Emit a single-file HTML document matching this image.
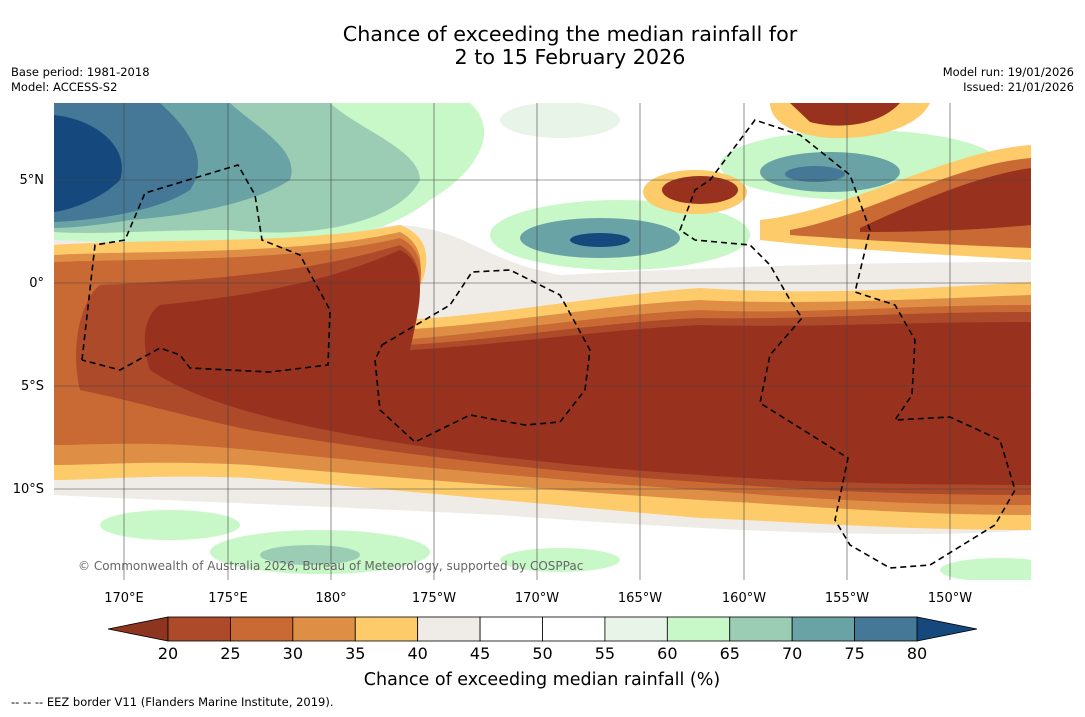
<!DOCTYPE html>
<html><head><meta charset="utf-8"><style>
body{margin:0;background:#fff;font-family:"DejaVu Sans",sans-serif}
svg text{font-family:"DejaVu Sans","Liberation Sans",sans-serif}
</style></head><body>
<svg width="1085" height="713" viewBox="0 0 1085 713">
<text x="570" y="41" font-size="20.7" text-anchor="middle">Chance of exceeding the median rainfall for</text>
<text x="570" y="64" font-size="20.7" text-anchor="middle">2 to 15 February 2026</text>
<text x="11" y="76" font-size="11.5">Base period: 1981-2018</text>
<text x="11" y="91" font-size="11.5">Model: ACCESS-S2</text>
<text x="1074" y="76" font-size="11.5" text-anchor="end">Model run: 19/01/2026</text>
<text x="1074" y="91" font-size="11.5" text-anchor="end">Issued: 21/01/2026</text>
<defs><clipPath id="mc"><rect x="54" y="103" width="977" height="477"/></clipPath></defs>
<g clip-path="url(#mc)">
<rect x="54" y="103" width="977" height="477" fill="#fff"/>
<path fill="#efebe6" d="M54,235 C150,232 300,232 400,225 C470,230 480,260 560,275 C700,268 850,262 1031,262 L1031,530 C900,540 700,530 500,515 C300,505 150,500 54,495 Z"/>
<ellipse cx="170" cy="525" rx="70" ry="15" fill="#c8f8c8"/>
<ellipse cx="320" cy="552" rx="110" ry="22" fill="#c8f8c8"/>
<ellipse cx="310" cy="555" rx="50" ry="10" fill="#9acdb4"/>
<ellipse cx="1000" cy="570" rx="60" ry="12" fill="#c8f8c8"/>
<ellipse cx="560" cy="560" rx="60" ry="12" fill="#c8f8c8"/>
<path fill="#c8f8c8" d="M54,103 L470,103 C500,130 480,170 430,200 C380,240 300,250 200,245 C120,245 80,240 54,240 Z"/>
<path fill="#9acdb4" d="M54,103 L330,103 C360,130 420,150 420,180 C400,220 320,240 230,230 C150,230 100,235 54,232 Z"/>
<path fill="#6aa3a5" d="M54,103 L230,103 C260,130 300,150 290,180 C260,200 200,215 130,220 C100,225 70,228 54,228 Z"/>
<path fill="#447896" d="M54,103 L160,103 C190,130 210,160 190,190 C160,210 100,220 54,222 Z"/>
<path fill="#15497e" d="M54,115 C100,120 130,150 120,180 C100,200 70,210 54,212 Z"/>
<ellipse cx="620" cy="235" rx="130" ry="35" fill="#c8f8c8"/>
<ellipse cx="600" cy="238" rx="80" ry="20" fill="#6aa3a5"/>
<ellipse cx="600" cy="240" rx="30" ry="7" fill="#15497e"/>
<ellipse cx="860" cy="165" rx="140" ry="35" fill="#c8f8c8"/>
<ellipse cx="830" cy="172" rx="70" ry="20" fill="#6aa3a5"/>
<ellipse cx="815" cy="174" rx="30" ry="8" fill="#447896"/>
<ellipse cx="560" cy="120" rx="60" ry="18" fill="#e8f4e8"/>
<path fill="#fdcb6a" d="M770,103 L930,103 C920,125 880,140 830,138 C790,135 770,120 770,103 Z"/>
<path fill="#98321e" d="M790,103 L900,103 C880,125 840,130 810,122 Z"/>
<ellipse cx="695" cy="192" rx="52" ry="22" fill="#fdcb6a"/>
<ellipse cx="700" cy="190" rx="38" ry="14" fill="#98321e"/>
<path fill="#fdcb6a" d="M54,245 C150,238 300,245 400,225 C440,240 430,280 400,320 C500,315 600,295 700,288 C800,295 900,290 1031,282 L1031,530 C900,530 800,522 700,518 C550,505 400,490 250,478 C150,474 100,480 54,480 Z"/>
<path fill="#fdcb6a" d="M760,220 C850,210 950,150 1031,145 L1031,260 C950,255 850,250 760,240 Z"/>
<path fill="#c96a35" d="M790,230 C870,215 950,165 1031,158 L1031,248 C950,245 860,240 790,235 Z"/>
<path fill="#98321e" d="M860,228 C920,200 980,175 1031,168 L1031,225 C980,230 920,232 860,232 Z"/>
<path fill="#df8f45" d="M54,255 C150,250 300,255 400,232 C435,250 420,290 395,330 C500,325 600,305 700,300 C800,305 900,300 1031,295 L1031,515 C900,515 800,505 700,500 C550,490 400,478 250,465 C150,460 100,465 54,465 Z"/>
<path fill="#c96a35" d="M54,262 C150,258 300,262 400,238 C435,255 420,300 400,340 C500,332 600,315 700,310 C800,315 900,305 1031,305 L1031,505 C900,505 800,498 700,490 C550,480 400,465 250,450 C150,440 100,445 54,445 Z"/>
<path fill="#ad4a2a" d="M100,285 C200,280 300,275 400,245 C430,262 420,305 405,345 C500,340 600,322 700,318 C800,320 900,312 1031,312 L1031,495 C900,495 800,490 700,482 C550,472 400,455 250,430 C180,415 130,400 80,390 C70,350 80,300 100,285 Z"/>
<path fill="#98321e" d="M160,305 C250,295 320,285 400,250 C430,265 420,305 410,350 C500,345 600,330 700,325 C800,328 900,322 1031,322 L1031,485 C900,485 800,482 700,475 C550,465 400,448 280,420 C220,405 180,390 150,370 C140,340 145,315 160,305 Z"/>
<text x="78" y="570" font-size="12" fill="#666">© Commonwealth of Australia 2026, Bureau of Meteorology, supported by COSPPac</text>
<g stroke="#444" stroke-width="0.6">
<line x1="124" y1="103" x2="124" y2="580"/><line x1="228" y1="103" x2="228" y2="580"/><line x1="331" y1="103" x2="331" y2="580"/><line x1="434" y1="103" x2="434" y2="580"/><line x1="537" y1="103" x2="537" y2="580"/><line x1="640" y1="103" x2="640" y2="580"/><line x1="744" y1="103" x2="744" y2="580"/><line x1="847" y1="103" x2="847" y2="580"/><line x1="950" y1="103" x2="950" y2="580"/>
<line x1="54" y1="180" x2="1031" y2="180"/><line x1="54" y1="283" x2="1031" y2="283"/><line x1="54" y1="386" x2="1031" y2="386"/><line x1="54" y1="489" x2="1031" y2="489"/>
</g>
<g fill="none" stroke="#000" stroke-width="1.6" stroke-dasharray="6,4">
<path d="M82,360 L95,245 L125,240 L145,193 L238,165 L255,195 L262,240 L300,255 L330,310 L328,365 L270,372 L190,368 L180,355 L160,348 L120,370 L82,360"/>
<path d="M382,345 L450,305 L472,272 L510,270 L560,295 L590,350 L585,390 L560,422 L525,425 L470,415 L415,442 L380,410 L375,360 Z"/>
<path d="M680,230 L695,190 L710,180 L755,120 L800,135 L850,175 L870,230 L855,292 L895,305 L915,340 L912,395 L895,420 L950,417 L1000,440 L1015,490 L995,525 L930,565 L890,568 L850,545 L835,520 L848,458 L760,403 L770,355 L802,318 L790,300 L770,265 L750,245 L695,240 Z"/>
</g>
</g>
<g font-size="13" text-anchor="end">
<text x="44" y="184">5°N</text><text x="44" y="287">0°</text><text x="44" y="390">5°S</text><text x="44" y="493">10°S</text>
</g>
<g font-size="13" text-anchor="middle">
<text x="124" y="602">170°E</text><text x="228" y="602">175°E</text><text x="331" y="602">180°</text><text x="434" y="602">175°W</text><text x="537" y="602">170°W</text><text x="640" y="602">165°W</text><text x="744" y="602">160°W</text><text x="847" y="602">155°W</text><text x="950" y="602">150°W</text>
</g>
<g id="cbar"></g>
<text x="542" y="685" font-size="17.5" text-anchor="middle">Chance of exceeding median rainfall (%)</text>
<text x="11" y="706" font-size="11.5">--  --  -- EEZ border V11 (Flanders Marine Institute, 2019).</text>
</svg>
<script>
const levels=[20,25,30,35,40,45,50,55,60,65,70,75,80];
const binColors=["#ad4a2a","#c96a35","#df8f45","#fdcb6a","#efebe6","#ffffff","#ffffff","#e8f4e8","#c8f8c8","#9acdb4","#6aa3a5","#447896"];
const lowColor="#8e3520", highColor="#15497e";
const g=document.getElementById('cbar'),NS="http://www.w3.org/2000/svg";
const x0=168,x1=917,y0=617,y1=641;
const xs=v=>x0+(v-levels[0])/(levels[levels.length-1]-levels[0])*(x1-x0);
function mk(t,a){const e=document.createElementNS(NS,t);for(const k in a)e.setAttribute(k,a[k]);g.appendChild(e);return e;}
const lt=mk('polygon',{points:`108,629 ${x0},${y0} ${x0},${y1}`,fill:lowColor,stroke:'#000','stroke-width':0.8});


const rt=mk('polygon',{points:`977,629 ${x1},${y0} ${x1},${y1}`,fill:highColor,stroke:'#000','stroke-width':0.8});


binColors.forEach((c,i)=>{
 const r=mk('rect',{x:xs(levels[i]),y:y0,width:xs(levels[i+1])-xs(levels[i]),height:y1-y0,fill:c,stroke:'#000','stroke-width':0.8});
 
 
});
levels.forEach(v=>{
 const t=mk('text',{x:xs(v),y:659,'font-size':16,'text-anchor':'middle'});t.textContent=v;
 
 
});
</script>
</body></html>
